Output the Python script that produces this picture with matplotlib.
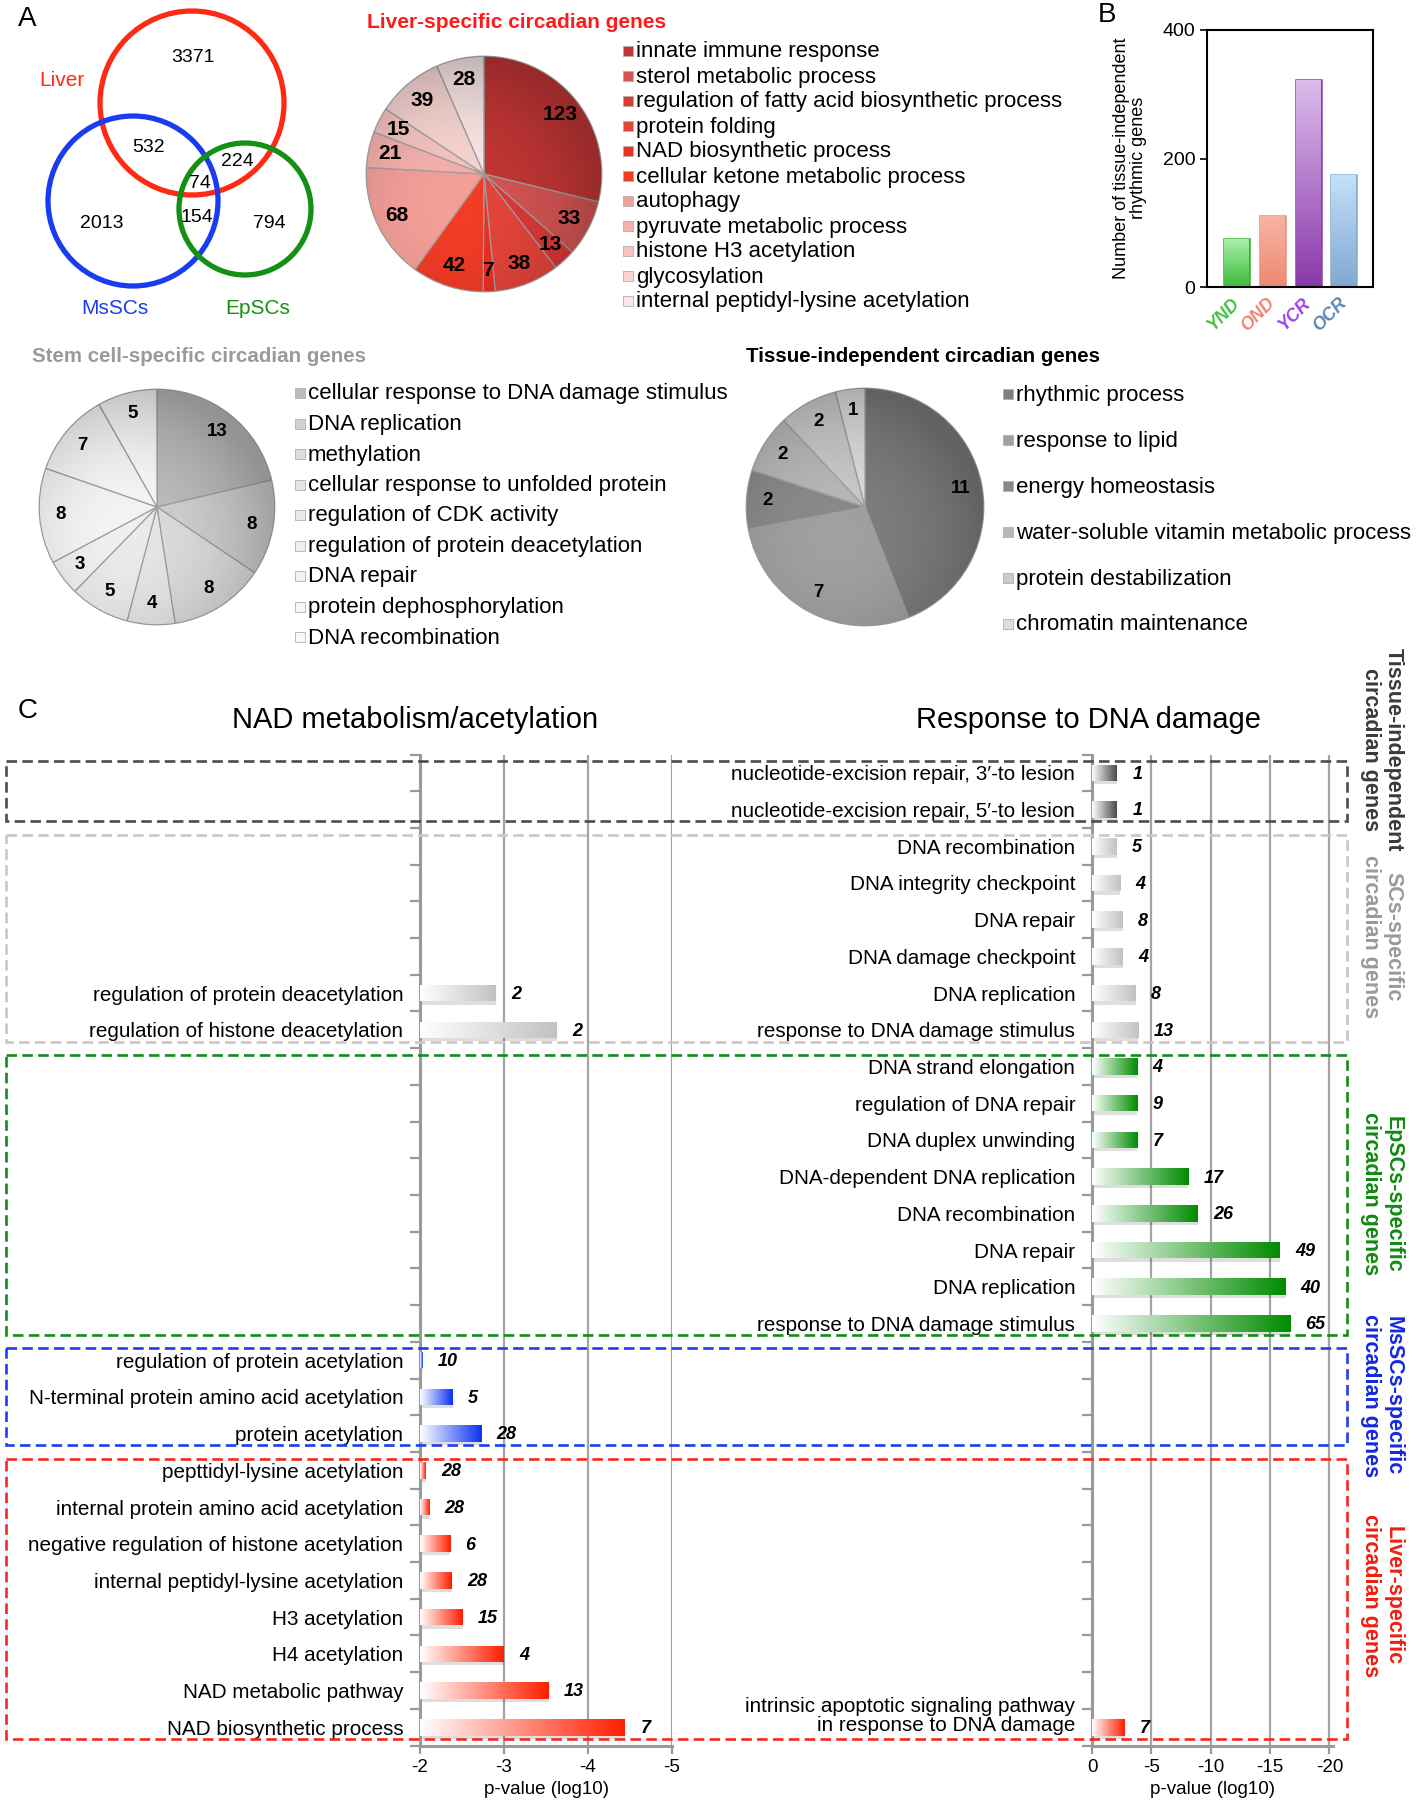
import numpy as np
import matplotlib
matplotlib.use('Agg')
import matplotlib.pyplot as plt
from matplotlib.patches import Circle, Rectangle
from matplotlib.colors import LinearSegmentedColormap
import matplotlib.transforms as mtransforms

plt.rcParams['font.family'] = ['Liberation Sans', 'DejaVu Sans']

# ---------------- данные ----------------
venn_labels = ['Liver', 'MsSCs', 'EpSCs']
venn_counts = [3371, 532, 224, 74, 2013, 154, 794]

liver_terms = ['innate immune response', 'sterol metabolic process',
               'regulation of fatty acid biosynthetic process', 'protein folding',
               'NAD biosynthetic process', 'cellular ketone metabolic process', 'autophagy',
               'pyruvate metabolic process', 'histone H3 acetylation', 'glycosylation',
               'internal peptidyl-lysine acetylation']
liver_counts = [123, 33, 13, 38, 7, 42, 68, 21, 15, 39, 28]
liver_colors = ['#c43636', '#d65454', '#dc3a36', '#e6443a', '#ec3024', '#f23c26',
                '#f49e98', '#f5b0ac', '#f7c4c0', '#f9d5d2', '#fbe7e6']

stem_terms = ['cellular response to DNA damage stimulus', 'DNA replication', 'methylation',
              'cellular response to unfolded protein', 'regulation of CDK activity',
              'regulation of protein deacetylation', 'DNA repair', 'protein dephosphorylation',
              'DNA recombination']
stem_counts = [13, 8, 8, 4, 5, 3, 8, 7, 5]
stem_colors = ['#bdbdbd', '#d0d0d0', '#dcdcdc', '#e5e5e5', '#eaeaea', '#efefef',
               '#f3f3f3', '#f6f6f6', '#f9f9f9']

tissue_terms = ['rhythmic process', 'response to lipid', 'energy homeostasis',
                'water-soluble vitamin metabolic process', 'protein destabilization',
                'chromatin maintenance']
tissue_counts = [11, 7, 2, 2, 2, 1]
tissue_colors = ['#7e7e7e', '#a0a0a0', '#8a8a8a', '#b8b8b8', '#cacaca', '#dedede']

b_groups = ['YND', 'OND', 'YCR', 'OCR']
b_values = [75, 110, 322, 174]
b_light = ['#aaf0aa', '#f8b4a4', '#dcbcec', '#c4e0fa']
b_dark = ['#3cbc3c', '#ee8870', '#8a38aa', '#80a8d2']
b_edge = ['#30b030', '#e8907c', '#8a40aa', '#86aacc']
b_text = ['#44c044', '#f08474', '#a040f0', '#5a88b8']

group_names = ['Tissue-independent\ncircadian genes', 'SCs-specific\ncircadian genes',
               'EpSCs-specific\ncircadian genes', 'MsSCs-specific\ncircadian genes',
               'Liver-specific\ncircadian genes']
group_sizes = [2, 6, 8, 3, 8]
group_bar = ['#4a4a4a', '#c2c2c2', '#008c00', '#0a32f0', '#ff1e00']
group_box = ['#4d4d4d', '#c8c8c8', '#128c12', '#1e3cf0', '#f5281e']
group_text = ['#3a3a3a', '#9a9a9a', '#0f8a0f', '#1428e0', '#f01e10']

nad_rows = [6, 7, 16, 17, 18, 19, 20, 21, 22, 23, 24, 25, 26]
nad_terms = ['regulation of protein deacetylation', 'regulation of histone deacetylation',
             'regulation of protein acetylation', 'N-terminal protein amino acid acetylation',
             'protein acetylation', 'pepttidyl-lysine acetylation',
             'internal protein amino acid acetylation',
             'negative regulation of histone acetylation',
             'internal peptidyl-lysine acetylation', 'H3 acetylation', 'H4 acetylation',
             'NAD metabolic pathway', 'NAD biosynthetic process']
nad_logp = [-2.9, -3.63, -2.03, -2.39, -2.73, -2.07, -2.11, -2.36, -2.38, -2.51, -3.0, -3.53, -4.44]
nad_counts = [2, 2, 10, 5, 28, 28, 28, 6, 28, 15, 4, 13, 7]

dna_rows = list(range(16)) + [26]
dna_terms = ['nucleotide-excision repair, 3\u2032-to lesion',
             'nucleotide-excision repair, 5\u2032-to lesion',
             'DNA recombination', 'DNA integrity checkpoint', 'DNA repair',
             'DNA damage checkpoint', 'DNA replication', 'response to DNA damage stimulus',
             'DNA strand elongation', 'regulation of DNA repair', 'DNA duplex unwinding',
             'DNA-dependent DNA replication', 'DNA recombination', 'DNA repair',
             'DNA replication', 'response to DNA damage stimulus',
             'intrinsic apoptotic signaling pathway\nin response to DNA damage']
dna_logp = [-2.1, -2.1, -2.1, -2.4, -2.6, -2.6, -3.7, -3.9, -3.8, -3.8, -3.8,
            -8.1, -8.9, -15.8, -16.3, -16.7, -2.7]
dna_counts = [1, 1, 5, 4, 8, 4, 8, 13, 4, 9, 7, 17, 26, 49, 40, 65, 7]

# ---------------- разметка ----------------
W, H = 1416, 1800
fig = plt.figure(figsize=(W / 100, H / 100), dpi=100)


def fx(x):
    return x / W


def fy(y):
    return 1 - y / H


def rect(x0, y0, x1, y1):
    return [x0 / W, 1 - y1 / H, (x1 - x0) / W, (y1 - y0) / H]


def fill_gradient(ax, patch, c0, c1, vertical=False):
    x0, y0 = patch.get_x(), patch.get_y()
    w, h = patch.get_width(), patch.get_height()
    arr = np.linspace(0, 1, 128).reshape(-1, 1) if vertical else np.linspace(0, 1, 128).reshape(1, -1)
    cmap = LinearSegmentedColormap.from_list('g', [c0, c1])
    im = ax.imshow(arr, cmap=cmap, extent=(x0, x0 + w, y0, y0 + h), origin='lower',
                   aspect='auto', interpolation='bilinear', zorder=patch.get_zorder())
    im.set_clip_path(patch)
    patch.set_facecolor('none')


# панельные буквы
fig.text(fx(18), fy(6), 'A', fontsize=20, va='top')
fig.text(fx(1098), fy(2), 'B', fontsize=20, va='top')
fig.text(fx(18), fy(698), 'C', fontsize=20, va='top')

# ---------------- Венн ----------------
axV = fig.add_axes(rect(0, 0, 330, 330))
axV.set_xlim(0, 330)
axV.set_ylim(330, 0)
axV.axis('off')
axV.add_patch(Circle((192, 103), 92, fill=False, ec='#ff2a14', lw=3.8))
axV.add_patch(Circle((133, 201), 85, fill=False, ec='#1a3cf0', lw=3.8))
axV.add_patch(Circle((245, 209), 66, fill=False, ec='#149014', lw=3.8))
venn_pos = [(193, 57), (149, 148), (237, 162), (200, 183), (102, 223), (197, 217), (269, 223)]
for n, (x, y) in zip(venn_counts, venn_pos):
    axV.text(x, y, str(n), ha='center', va='center', fontsize=14)
for lab, (x, y), c in zip(venn_labels, [(62, 80), (115, 308), (258, 308)],
                          ['#ff2a14', '#1a3cf0', '#149014']):
    axV.text(x, y, lab, ha='center', va='center', fontsize=15, color=c)


# ---------------- круговые диаграммы ----------------
def draw_pie(box, values, colors, fs):
    ax = fig.add_axes(rect(*box))
    total = sum(values)
    ax.pie(values, colors=colors, startangle=90, counterclock=False, radius=1,
           autopct=lambda p: f'{p * total / 100:.0f}', pctdistance=0.82,
           wedgeprops=dict(edgecolor='#a0a0a0', linewidth=0.9),
           textprops=dict(fontsize=fs, fontweight='bold'))
    # лёгкое затемнение к краю, как объёмная заливка
    g = np.linspace(-1, 1, 300)
    xx, yy = np.meshgrid(g, g)
    rr = np.clip(np.hypot(xx + 0.25, yy - 0.25) / 1.25, 0, 1)
    shade = np.zeros((300, 300, 4))
    shade[..., 3] = 0.22 * rr ** 2.2
    im = ax.imshow(shade, extent=(-1, 1, -1, 1), zorder=1.5, interpolation='bilinear')
    im.set_clip_path(Circle((0, 0), 1, transform=ax.transData))
    ax.set_xlim(-1.01, 1.01)
    ax.set_ylim(-1.01, 1.01)
    ax.axis('off')
    return ax


def draw_legend(terms, colors, x, y0, dy, fs):
    for i, (t, c) in enumerate(zip(terms, colors)):
        y = y0 + i * dy
        fig.add_artist(Rectangle((fx(x - 13), fy(y + 4)), 10 / W, 10 / H, transform=fig.transFigure,
                                 facecolor=c, edgecolor='#b0b0b0', lw=0.6))
        fig.text(fx(x), fy(y), t, fontsize=fs, va='center', ha='left')


draw_pie((365, 55, 603, 293), liver_counts, liver_colors, 15)
fig.text(fx(367), fy(22), 'Liver-specific circadian genes', color='#ff1a1a',
         fontsize=15, fontweight='bold', va='center')
draw_legend(liver_terms, liver_colors, 636, 52, 25, 16)

draw_pie((38, 388, 276, 626), stem_counts, stem_colors, 13.5)
fig.text(fx(32), fy(357), 'Stem cell-specific circadian genes', color='#9a9a9a',
         fontsize=14.8, fontweight='bold', va='center')
draw_legend(stem_terms, stem_colors, 308, 394, 30.5, 16)

draw_pie((745, 387, 985, 627), tissue_counts, tissue_colors, 13.5)
fig.text(fx(746), fy(357), 'Tissue-independent circadian genes', color='black',
         fontsize=14.8, fontweight='bold', va='center')
draw_legend(tissue_terms, tissue_colors, 1016, 395, 46, 16)

# ---------------- панель B ----------------
axB = fig.add_axes(rect(1207, 30, 1373, 287))
xb = np.arange(len(b_groups))
bars = axB.bar(xb, b_values, width=0.7, edgecolor=b_edge, linewidth=1.8, zorder=2)
for p, c0, c1 in zip(bars, b_dark, b_light):
    fill_gradient(axB, p, c0, c1, vertical=True)
axB.set_xlim(-0.84, 3.82)
axB.set_ylim(0, 400)
axB.set_yticks([0, 200, 400])
axB.set_yticklabels(['0', '200', '400'], fontsize=14)
axB.set_xticks(xb)
axB.set_xticklabels(b_groups, rotation=45, ha='right', va='center', rotation_mode='anchor',
                    fontsize=13, fontweight='bold', fontstyle='italic')
for lab, c in zip(axB.get_xticklabels(), b_text):
    lab.set_color(c)
axB.tick_params(axis='x', length=0, pad=10)
axB.tick_params(axis='y', length=5, width=1.2)
for s in axB.spines.values():
    s.set_linewidth(1.5)
fig.text(fx(1130), fy(158), 'Number of tissue-independent\nrhythmic genes', rotation=90,
         ha='center', va='center', fontsize=13, linespacing=1.05)

# ---------------- панель C ----------------
n_rows = sum(group_sizes)
row_group = np.repeat(np.arange(len(group_sizes)), group_sizes)
top, bottom = 754.5, 1745.6
axL = fig.add_axes(rect(420, top, 672, bottom))
axR = fig.add_axes(rect(1092, top, 1333, bottom))
bar_h = 0.45
fs_lab = 14.9


def draw_side(ax, rows, terms, logp, counts, base, xlim, ticks, ticklabels):
    rows = np.array(rows)
    widths = np.array(logp) - base
    ax.barh(rows + 0.09, widths, left=base, height=bar_h, color='black', alpha=0.13, zorder=2)
    bars = ax.barh(rows, widths, left=base, height=bar_h, zorder=3)
    for p, r in zip(bars, rows):
        fill_gradient(ax, p, '#ffffff', group_bar[row_group[r]])
    for r, v, c in zip(rows, logp, counts):
        ax.annotate(str(c), xy=(v, r), xytext=(11, -1), textcoords='offset points',
                    ha='left', va='center', fontsize=13, fontweight='bold', fontstyle='italic')
    labels = [''] * n_rows
    for r, t in zip(rows, terms):
        if '\n' in t:
            ax.annotate(t, xy=(0, r), xycoords=('axes fraction', 'data'), xytext=(-12, 8),
                        textcoords='offset points', ha='right', va='center', fontsize=fs_lab,
                        linespacing=1.0)
        else:
            labels[r] = t
    ax.set_yticks(np.arange(n_rows))
    ax.set_yticklabels(labels, fontsize=fs_lab)
    ax.set_yticks(np.arange(n_rows + 1) - 0.5, minor=True)
    ax.tick_params(axis='y', which='major', length=0, pad=12)
    ax.tick_params(axis='y', which='minor', length=7, width=1.6, color='#9a9a9a')
    ax.set_xticks(ticks)
    ax.set_xticklabels(ticklabels, fontsize=13.5)
    ax.tick_params(axis='x', length=6, width=1.6, color='#9a9a9a', pad=4)
    ax.set_xlim(*xlim)
    ax.set_ylim(n_rows - 0.5, -0.5)
    ax.set_axisbelow(True)
    ax.grid(axis='x', color='#a4a4a4', lw=1.6)
    for s in ['top', 'right']:
        ax.spines[s].set_visible(False)
    for s in ['left', 'bottom']:
        ax.spines[s].set_color('#9a9a9a')
        ax.spines[s].set_linewidth(2.2)
    ax.set_xlabel('p-value (log10)', fontsize=13.5, labelpad=3)
    ax.set_facecolor('none')


draw_side(axL, nad_rows, nad_terms, nad_logp, nad_counts, -2, (-2, -5),
          [-2, -3, -4, -5], ['-2', '-3', '-4', '-5'])
draw_side(axR, dna_rows, dna_terms, dna_logp, dna_counts, 0, (0, -20.3),
          [0, -5, -10, -15, -20], ['0', '-5', '-10', '-15', '-20'])

fig.text(fx(415), fy(720), 'NAD metabolism/acetylation', fontsize=21, ha='center', va='center')
fig.text(fx(1089), fy(720), 'Response to DNA damage', fontsize=21, ha='center', va='center')

# пунктирные рамки групп
trans = mtransforms.blended_transform_factory(fig.transFigure, axL.transData)
inset = 0.18
start = 0
label_y = [750, 937, 1194, 1396, 1596]
for g, n in enumerate(group_sizes):
    y0 = start - 0.5 + inset
    y1 = start + n - 0.5 - inset
    fig.add_artist(Rectangle((fx(6), y0), fx(1347) - fx(6), y1 - y0, transform=trans, fill=False,
                             ec=group_box[g], lw=1.9, ls=(0, (4, 2)), zorder=5))
    fig.text(fx(1382), fy(label_y[g]), group_names[g], rotation=270, ha='center', va='center',
             multialignment='center', color=group_text[g], fontsize=15.5, fontweight='bold',
             linespacing=1.1)
    start += n

fig.savefig('out.png', dpi=100, facecolor='white')
